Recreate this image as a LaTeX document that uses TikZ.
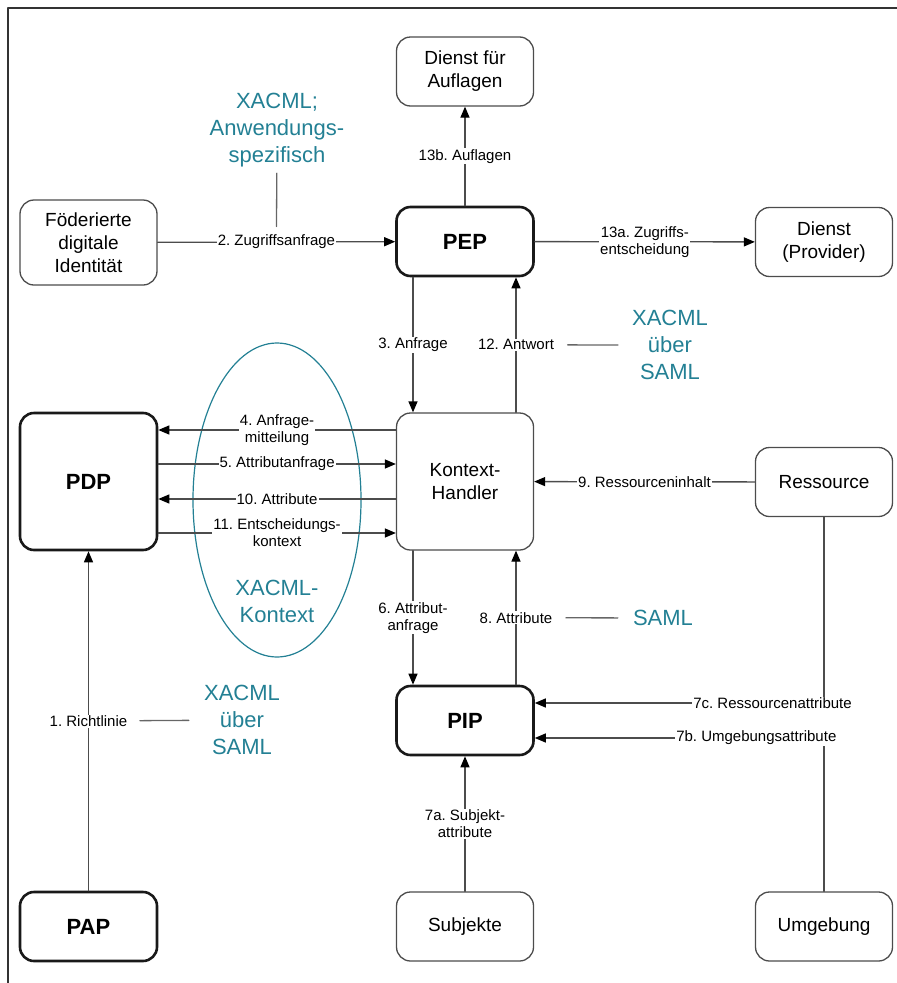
\documentclass[tikz,border=0pt]{standalone}
\usepackage{fontspec}
\setmainfont{Liberation Sans}
\usetikzlibrary{arrows.meta,shapes.geometric}
\definecolor{xteal}{RGB}{35,128,148}
\frenchspacing

\begin{document}
\begin{tikzpicture}[x=1pt,y=-1pt,line cap=round,line join=round,
  box/.style={draw=black!70,line width=1.3pt,rounded corners=14pt,minimum width=137pt,minimum height=69pt,align=center,inner sep=2pt,font=\fontsize{19}{23}\selectfont},
  mainbox/.style={box,draw=black!90,line width=2.6pt,font=\fontsize{22}{26}\selectfont\bfseries},
  flow/.style={draw=black!70,line width=1.3pt,-{Triangle[length=11pt,width=9pt,color=black]}},
  lbl/.style={fill=white,inner sep=1pt,align=center,font=\fontsize{15}{17}\selectfont},
  note/.style={text=xteal,align=center,inner sep=1pt,font=\fontsize{22}{27}\selectfont},
  tie/.style={draw=black!60,line width=1.3pt}]
  \useasboundingbox (0,0) rectangle (897,983);
  \draw[black!80,line width=1.2pt] (8,983) -- (8,8) -- (897,8);

  % Kontext ellipse
  \node[ellipse,draw=xteal,line width=1.2pt,minimum width=168pt,minimum height=314pt] (ctx) at (277,500) {};
  \node[note] (ctxnote) at (277,601) {XACML-\\Kontext};

  % boxes
  \node[box] (auflagen) at (465,71.5) {Dienst für\\Auflagen};
  \node[box,minimum height=85pt] (foed) at (88.5,242.5) {Föderierte\\digitale\\Identität};
  \node[mainbox] (pep) at (465,241.5) {PEP};
  \node[box] (provider) at (824,242) {Dienst\\(Provider)};
  \node[mainbox,minimum height=137pt] (pdp) at (88.5,481.5) {PDP};
  \node[box,minimum height=137pt] (handler) at (465,481.5) {Kontext-\\Handler};
  \node[box] (ressource) at (824,482) {Ressource};
  \node[mainbox] (pip) at (465,720.5) {PIP};
  \node[mainbox] (pap) at (88.5,926.5) {PAP};
  \node[box] (subjekte) at (465,926.5) {Subjekte};
  \node[box] (umgebung) at (824,926.5) {Umgebung};

  % messages
  \draw[flow] (pap) -- node[lbl] (richtlinie) {1. Richtlinie} (pdp);
  \draw[flow] (foed) -- node[lbl] (zugriff) {2. Zugriffsanfrage} (pep);
  \draw[flow] ([xshift=-52pt]pep.south) -- node[lbl] {3. Anfrage} ([xshift=-52pt]handler.north);
  \draw[flow] ([yshift=51.5pt]handler.west) -- node[lbl] {4. Anfrage-\\mitteilung} ([yshift=51.5pt]pdp.east);
  \draw[flow] ([yshift=17.5pt]pdp.east) -- node[lbl] {5. Attributanfrage} ([yshift=17.5pt]handler.west);
  \draw[flow] ([xshift=-52pt]handler.south) -- node[lbl] {6. Attribut-\\anfrage} ([xshift=-52pt]pip.north);
  \draw[flow] (subjekte) -- node[lbl] {7a. Subjekt-\\attribute} (pip);
  \draw[flow] (umgebung) |- node[lbl,pos=0.617] {7b. Umgebungsattribute} ([yshift=-17.5pt]pip.east);
  \draw[flow] (ressource) |- node[lbl,pos=0.589] {7c. Ressourcenattribute} ([yshift=17.5pt]pip.east);
  \draw[flow] ([xshift=51pt]pip.north) -- node[lbl] (attr) {8. Attribute} ([xshift=51pt]handler.south);
  \draw[flow] (ressource) -- node[lbl] {9. Ressourceninhalt} (handler);
  \draw[flow] ([yshift=-17.5pt]handler.west) -- node[lbl] {10. Attribute} ([yshift=-17.5pt]pdp.east);
  \draw[flow] ([yshift=-51.5pt]pdp.east) -- node[lbl] {11. Entscheidungs-\\kontext} ([yshift=-51.5pt]handler.west);
  \draw[flow] ([xshift=51pt]handler.north) -- node[lbl] (antwort) {12. Antwort} ([xshift=51pt]pep.south);
  \draw[flow] (pep) -- node[lbl] {13a. Zugriffs-\\entscheidung} (provider);
  \draw[flow] (pep) -- node[lbl] {13b. Auflagen} (auflagen);

  % protocol notes
  \node[note] (appnote) at (277,130) {XACML;\\Anwendungs-\\spezifisch};
  \node[note] (samlnote1) at (670,345) {XACML\\über\\SAML};
  \node[note] (samlnote2) at (663,618) {SAML};
  \node[note] (samlnote3) at (242,720) {XACML\\über\\SAML};
  \draw[tie,shorten <=5pt,shorten >=7pt] (appnote) -- (zugriff);
  \draw[tie,shorten <=12pt,shorten >=13pt] (antwort) -- (samlnote1);
  \draw[tie,shorten <=12pt,shorten >=14pt] (attr) -- (samlnote2);
  \draw[tie,shorten <=11pt,shorten >=14pt] (richtlinie) -- (samlnote3);
\end{tikzpicture}
\end{document}
